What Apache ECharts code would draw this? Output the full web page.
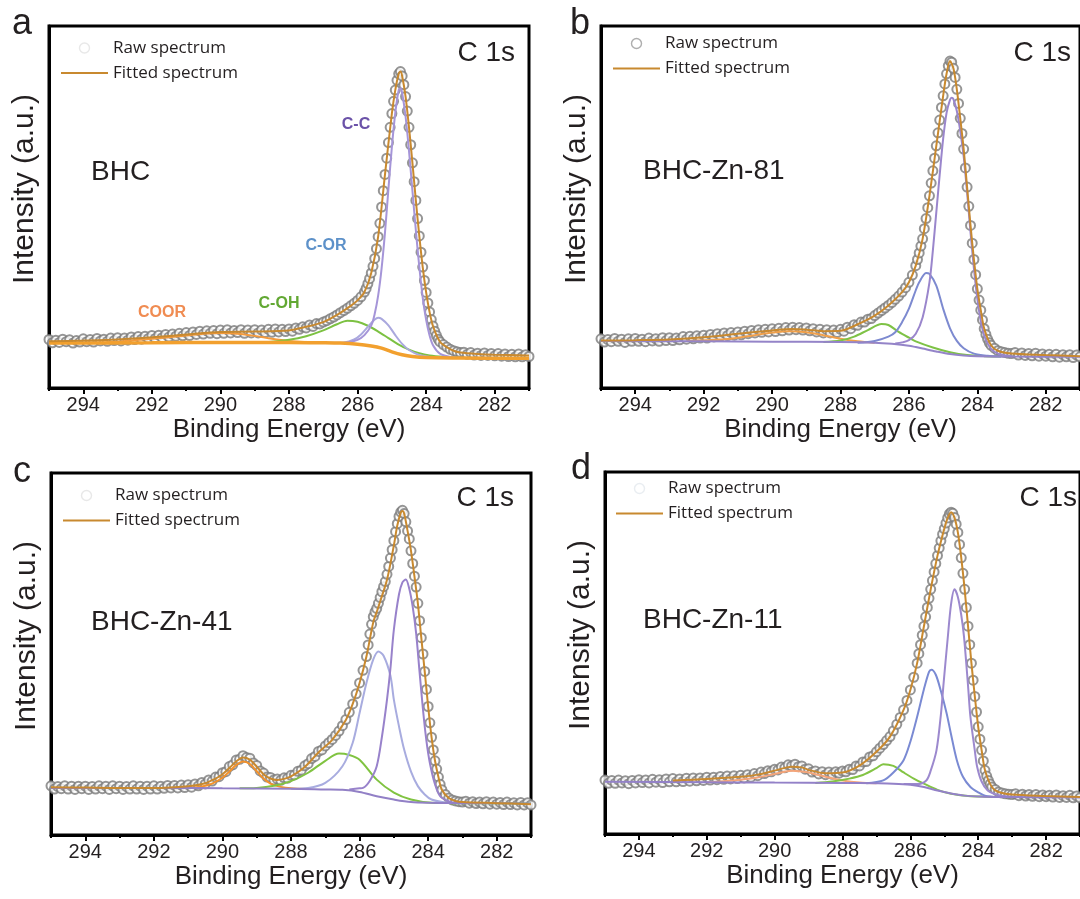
<!DOCTYPE html>
<html><head><meta charset="utf-8">
<script src="https://cdn.jsdelivr.net/npm/echarts@6/dist/echarts.min.js"></script>
<style>html,body{margin:0;padding:0;background:#fff}#c{width:1080px;height:899px}</style>
</head><body><div id="c"></div>
<script>
// ---------------- data (intensity in % of plot height) ----------------
const tickLabels = [282, 284, 286, 288, 290, 292, 294];
const energy = [
295.0,294.9,294.8,294.7,294.6,294.5,294.4,294.3,294.2,294.1,
294.0,293.9,293.8,293.7,293.6,293.5,293.4,293.3,293.2,293.1,
293.0,292.9,292.8,292.7,292.6,292.5,292.4,292.3,292.2,292.1,
292.0,291.9,291.8,291.7,291.6,291.5,291.4,291.3,291.2,291.1,
291.0,290.9,290.8,290.7,290.6,290.5,290.4,290.3,290.2,290.1,
290.0,289.9,289.8,289.7,289.6,289.5,289.4,289.3,289.2,289.1,
289.0,288.9,288.8,288.7,288.6,288.5,288.4,288.3,288.2,288.1,
288.0,287.9,287.8,287.7,287.6,287.5,287.4,287.3,287.2,287.1,
287.0,286.9,286.8,286.7,286.6,286.5,286.4,286.3,286.2,286.1,286.0,285.9,
285.80,285.75,285.70,285.65,285.60,285.55,285.50,285.45,285.40,285.35,285.30,285.25,285.20,285.15,285.10,285.05,285.00,284.95,284.90,284.85,284.80,284.75,284.70,284.65,284.60,284.55,284.50,284.45,284.40,284.35,284.30,284.25,284.20,284.15,284.10,284.05,284.00,283.95,283.90,283.85,283.80,283.75,283.70,283.65,283.60,
283.5,283.4,283.3,283.2,283.1,283.0,
282.9,282.8,282.7,282.6,282.5,282.4,282.3,282.2,282.1,282.0,
281.9,281.8,281.7,281.6,281.5,281.4,281.3,281.2,281.1,281.0];

const rawA = [
13.4,12.5,13.2,12.6,13.5,12.8,13.3,12.4,13.1,12.7,
13.6,12.8,13.4,12.7,13.7,13.0,13.5,12.9,13.8,13.1,
13.9,13.0,13.8,13.2,14.1,13.4,14.2,13.5,14.3,13.7,
14.5,13.7,14.6,13.9,14.8,14.1,14.9,14.3,15.1,14.4,
15.3,14.5,15.5,14.8,15.7,14.9,15.8,15.1,15.9,15.0,
16.0,15.1,16.1,15.2,15.9,15.3,16.1,15.1,16.0,15.2,
16.1,15.2,16.0,15.3,16.2,15.4,16.3,15.5,16.2,15.6,
16.3,15.7,16.6,16.2,16.9,16.6,17.4,17.0,17.8,17.7,
18.2,18.6,19.1,19.6,20.2,20.8,21.4,22.0,22.7,23.4,24.2,25.2,
26.5,27.5,28.8,30.2,31.8,33.6,35.8,38.5,41.8,45.5,50.0,54.5,59.0,63.5,67.8,72.0,75.8,79.2,82.3,85.0,86.8,87.4,86.2,83.8,80.5,76.5,72.0,67.2,62.2,57.0,51.8,46.8,42.0,37.5,33.4,29.7,26.4,23.5,21.0,18.9,17.1,15.7,14.5,13.5,12.8,
12.0,11.3,10.7,10.3,10.0,9.8,
9.9,9.3,9.8,9.1,9.6,9.0,9.7,9.0,9.5,8.9,
9.5,8.8,9.4,8.7,9.3,8.6,9.4,8.6,9.2,8.7];
const rawB = [
13.6,12.7,13.4,12.8,13.7,12.9,13.5,12.6,13.6,12.9,
13.7,12.9,13.5,12.8,13.8,13.0,13.6,12.9,13.9,13.1,
13.9,13.1,13.8,13.3,14.2,13.5,14.3,13.6,14.4,13.8,
14.6,13.8,14.8,14.1,15.0,14.3,15.2,14.5,15.3,14.6,
15.5,14.7,15.7,15.0,15.9,15.2,16.1,15.4,16.2,15.5,
16.4,15.6,16.5,15.8,16.7,16.0,16.8,16.1,16.7,16.0,
16.6,15.8,16.4,15.5,16.2,15.2,16.1,15.2,16.0,15.3,
16.2,15.7,16.8,16.4,17.5,17.3,18.2,18.2,19.0,19.2,
20.0,20.7,21.4,22.1,22.8,23.6,24.5,25.4,26.5,27.7,29.2,31.2,
33.8,35.5,37.3,39.2,41.2,44.0,46.8,49.8,53.1,56.6,60.0,63.5,66.9,70.5,74.0,77.5,80.7,84.0,86.8,89.0,90.3,90.0,88.3,85.8,82.5,78.6,74.5,70.3,66.0,60.8,55.5,50.2,44.9,40.0,35.5,31.3,27.4,24.3,21.5,18.8,16.4,14.8,13.5,12.5,11.8,
11.0,10.3,10.0,9.8,9.6,9.5,
9.8,9.1,9.7,9.0,9.5,8.9,9.6,8.8,9.4,8.8,
9.3,8.6,9.3,8.5,9.2,8.6,9.2,8.4,9.1,8.6];
const rawC = [
13.6,12.7,13.4,12.8,13.6,12.7,13.5,12.6,13.5,12.8,
13.5,12.6,13.4,12.7,13.6,12.8,13.5,12.6,13.6,12.8,
13.5,12.6,13.4,12.7,13.6,12.7,13.5,12.6,13.5,12.7,
13.6,12.7,13.5,12.9,13.7,13.0,13.7,13.0,13.8,13.1,
13.9,13.2,14.1,13.6,14.5,14.1,15.2,14.9,16.0,16.1,
17.2,17.5,18.9,19.4,20.7,20.9,21.9,21.4,21.2,19.9,
19.2,17.7,17.1,16.0,15.9,15.2,15.5,15.1,15.8,15.7,
16.5,16.6,17.6,17.9,19.1,19.7,21.1,21.7,23.1,23.5,
24.6,25.5,26.4,27.5,28.7,30.2,31.9,33.9,36.2,39.0,42.0,45.5,
49.3,52.5,55.5,58.2,60.3,61.6,62.6,64.0,65.6,67.2,68.6,70.0,72.0,74.2,76.5,78.8,81.3,83.8,86.0,88.0,89.2,89.7,88.8,86.5,84.0,81.8,78.5,75.0,71.5,68.5,64.0,59.2,54.5,50.0,45.2,40.2,35.5,31.0,27.0,23.5,20.5,18.2,16.0,14.0,12.5,
11.2,10.2,9.7,9.4,9.2,9.1,
9.3,8.8,9.2,8.7,9.1,8.6,9.2,8.5,9.1,8.5,
9.0,8.4,9.1,8.4,8.9,8.3,9.0,8.3,8.9,8.3];
const rawD = [
14.9,14.0,14.8,14.0,14.9,14.1,14.7,13.9,14.8,14.1,
15.0,14.2,14.9,14.1,15.1,14.3,15.0,14.2,15.2,14.4,
15.3,14.4,15.2,14.5,15.4,14.6,15.5,14.7,15.5,14.8,
15.7,14.9,15.7,15.0,15.9,15.1,16.0,15.2,16.1,15.3,
16.2,15.5,16.4,15.7,16.7,16.1,17.1,16.7,17.5,17.2,
17.9,17.7,18.5,18.3,19.1,18.8,19.3,18.6,18.8,17.9,
18.0,17.1,17.4,16.6,17.2,16.4,17.1,16.5,17.2,16.8,
17.4,17.2,17.9,17.8,18.8,18.8,19.9,20.0,21.3,21.6,
22.7,23.7,24.7,25.8,26.9,28.5,30.3,32.2,34.3,36.9,39.8,43.3,
47.2,49.8,52.3,54.9,57.4,60.0,62.6,65.1,67.6,70.0,72.4,74.7,76.9,79.0,81.0,82.8,84.3,85.9,87.3,88.4,88.9,88.6,87.4,85.6,83.3,80.0,76.3,72.0,67.6,62.6,57.4,52.3,47.2,42.5,38.0,33.7,29.6,26.2,23.2,20.2,17.6,16.0,14.8,13.8,13.0,
12.3,11.6,11.3,11.1,11.0,10.9,
11.1,10.6,11.0,10.5,10.9,10.4,10.9,10.3,10.8,10.3,
10.7,10.2,10.8,10.1,10.6,10.1,10.7,10.0,10.5,10.0];

// fitted envelopes [energy, intensity]
const fitA = [[295,12.9],[294,13.1],[293,13.4],[292,14.0],[291,14.8],[290,15.5],[289,15.6],[288,15.9],[287.5,16.9],[287,18.2],[286.6,20.2],[286.2,22.7],[286,24.2],[285.8,26.5],[285.6,31.8],[285.4,41.8],[285.2,59.0],[285,75.8],[284.9,82.3],[284.8,86.8],[284.75,87.4],[284.7,86.2],[284.6,80.5],[284.5,72.0],[284.4,62.2],[284.3,51.8],[284.2,42.0],[284.1,33.4],[284,26.4],[283.9,21.0],[283.8,17.1],[283.6,12.8],[283.4,11.3],[283.2,10.3],[283,9.8],[282.5,9.4],[282,9.2],[281,9.0]];
const fitB = [[295,13.1],[294,13.2],[293,13.4],[292,14.0],[291,15.0],[290,15.9],[289.4,16.3],[289,16.1],[288.5,15.7],[288,15.8],[287.5,17.6],[287,20.0],[286.6,22.8],[286.2,26.5],[286,29.2],[285.8,33.8],[285.6,41.2],[285.4,53.1],[285.2,66.9],[285,80.7],[284.9,86.8],[284.8,90.3],[284.7,88.3],[284.6,82.5],[284.5,74.5],[284.4,66.0],[284.3,55.5],[284.2,44.9],[284.1,35.5],[284,27.4],[283.9,21.5],[283.8,16.4],[283.6,11.8],[283.4,10.3],[283,9.5],[282,9.1],[281,8.8]];
const fitC = [[295,13.2],[294,13.1],[293,13.0],[292,13.0],[291,13.5],[290.5,14.3],[290.2,15.6],[290,16.8],[289.8,18.5],[289.6,20.3],[289.4,21.4],[289.2,20.8],[289,18.9],[288.8,16.8],[288.6,15.6],[288.4,15.2],[288.2,15.5],[288,16.2],[287.6,18.8],[287.2,22.8],[286.8,26.3],[286.4,31.8],[286.2,36.2],[286,42.0],[285.8,49.3],[285.6,58.8],[285.5,61.6],[285.4,64.5],[285.2,70.5],[285,80.0],[284.9,85.5],[284.8,89.0],[284.75,89.5],[284.7,88.8],[284.6,84.0],[284.5,78.5],[284.4,71.5],[284.3,64.0],[284.2,54.5],[284.1,45.2],[284,35.5],[283.9,27.0],[283.8,20.5],[283.7,16.0],[283.6,12.5],[283.4,10.2],[283.2,9.4],[283,9.1],[282,8.8],[281,8.5]];
const fitD = [[293,14.8],[292,15.2],[291,15.8],[290.5,16.4],[290,17.5],[289.5,18.6],[289.2,18.4],[289,17.7],[288.5,16.8],[288,17.0],[287.5,18.9],[287,22.7],[286.6,26.9],[286.2,34.3],[286,39.8],[285.8,47.2],[285.6,57.4],[285.4,67.6],[285.2,76.9],[285,84.3],[284.9,87.3],[284.8,88.9],[284.7,87.4],[284.6,83.3],[284.5,76.3],[284.4,67.6],[284.3,57.4],[284.2,47.2],[284.1,38.0],[284,29.6],[283.9,23.2],[283.8,17.6],[283.6,13.0],[283.4,11.6],[283,10.9],[282,10.5],[281,10.2]];

// panel a components
const bgA = [[295,12.4],[292,12.5],[290,12.6],[288,12.6],[287,12.5],[286.5,12.4],[286,12.1],[285.6,11.6],[285.3,11.0],[285,10.0],[284.7,9.2],[284.4,8.7],[284,8.4],[283,8.3],[281,8.2]];
const cooA = [[294,12.4],[293,12.8],[292,13.6],[291,14.5],[290.5,15.0],[290,15.2],[289.5,15.0],[289,14.4],[288.5,13.6],[288,13.0],[287.5,12.7],[287,12.5]];
const cohA = [[289,12.6],[288.5,12.8],[288,13.3],[287.5,14.3],[287,15.9],[286.6,17.6],[286.3,18.6],[286,18.3],[285.7,17.2],[285.4,15.6],[285.1,13.8],[284.8,12.0],[284.5,10.6],[284.2,9.6],[283.9,9.0],[283.5,8.6],[283,8.3]];
const corA = [[286.8,12.5],[286.4,12.6],[286.1,13.4],[285.9,14.8],[285.7,16.9],[285.5,18.9],[285.4,19.4],[285.3,19.1],[285.1,17.3],[284.9,14.6],[284.7,12.2],[284.5,10.5],[284.2,9.1],[283.9,8.6],[283.5,8.3]];
const ccA = [[286.6,12.4],[286.3,12.6],[286,13.3],[285.8,14.6],[285.6,17.3],[285.5,20.5],[285.4,25.5],[285.3,33],[285.2,43],[285.1,55],[285,66.5],[284.9,76],[284.8,82.3],[284.75,82.8],[284.7,81.5],[284.6,75],[284.5,65.5],[284.4,54.5],[284.3,43.5],[284.2,33.5],[284.1,25],[284,18.8],[283.9,14.5],[283.8,11.8],[283.6,9.5],[283.3,8.6],[283,8.3]];
// panel b components
const bgB = [[295,13.0],[292,12.9],[290,12.8],[288,12.7],[287,12.5],[286.5,12.2],[286,11.7],[285.8,11.3],[285.6,10.9],[285.2,10.1],[284.8,9.4],[284.4,9.0],[284,8.8],[283,8.7],[281,8.6]];
const cooB = [[292.5,13.0],[291.5,13.4],[291,13.9],[290.5,14.6],[290,15.3],[289.5,15.7],[289,15.4],[288.5,14.6],[288,13.6],[287.5,12.9],[287,12.5]];
const cohB = [[288.5,12.7],[288,13.1],[287.6,14.2],[287.2,16.0],[286.8,17.7],[286.6,17.4],[286.3,15.5],[286,13.9],[285.8,12.9],[285.3,11.2],[284.8,9.9],[284.3,9.1],[283.8,8.8],[283.3,8.7]];
const corB = [[287.5,12.5],[287,13.0],[286.6,14.2],[286.4,15.4],[286.2,18.2],[286,21.9],[285.8,27.0],[285.7,29.2],[285.5,31.8],[285.4,31.5],[285.2,28.3],[285,21.9],[284.8,16.5],[284.6,13.0],[284.4,11.0],[284.1,9.5],[283.7,8.9],[283.3,8.7]];
const ccB = [[286.4,12.3],[286.2,12.6],[286,13.2],[285.8,15.0],[285.6,19.5],[285.4,29.2],[285.3,38],[285.2,48.5],[285.1,59],[285,68.8],[284.9,76],[284.8,79.6],[284.75,80.2],[284.7,79.8],[284.6,76.5],[284.5,71],[284.4,64],[284.3,54],[284.2,43],[284.1,33],[284,24.6],[283.9,18.5],[283.8,14.5],[283.6,10.8],[283.4,9.5],[283,8.8]];
// panel c components
const bgC = [[295,13.0],[292,13.0],[290,12.9],[288,12.8],[287,12.6],[286.5,12.5],[286,11.9],[285.5,10.7],[285,9.8],[284.5,9.1],[284,8.9],[283,8.8],[281,8.7]];
const cooC = [[291,13.0],[290.6,13.4],[290.3,14.2],[290,15.8],[289.8,17.5],[289.6,19.3],[289.4,20.3],[289.2,19.6],[289,17.6],[288.8,15.6],[288.6,14.2],[288.3,13.3],[288,12.9],[287.5,12.7]];
const cohC = [[289.5,12.9],[289,13.0],[288.5,13.6],[288,14.9],[287.5,17.2],[287,20.5],[286.6,22.5],[286.3,22.1],[286,20.8],[285.5,15.3],[285,11.7],[284.5,9.8],[283.9,8.9],[283.3,8.8],[281,8.7]];
const corC = [[288,12.8],[287.5,13.0],[287,14.4],[286.5,19.0],[286.2,25.5],[286,33.7],[285.8,42],[285.6,48.5],[285.45,50.7],[285.3,49.5],[285.1,44],[285,37.4],[284.85,30],[284.7,23.6],[284.5,17.5],[284.3,13.5],[284.1,11.2],[283.9,9.8],[283.5,9.0],[283,8.8]];
const ccC = [[286.3,12.6],[286,12.9],[285.9,13.0],[285.7,15],[285.5,19.0],[285.35,27],[285.2,37.4],[285.1,46],[285,56.7],[284.85,66.5],[284.75,69.8],[284.65,70.6],[284.55,68],[284.45,63],[284.35,55.7],[284.25,45],[284.15,34.6],[284.05,26],[283.95,19.9],[283.8,14],[283.65,10.7],[283.45,9.5],[283.25,8.9],[283,8.8]];
// panel d components
const bgD = [[295,14.4],[292,14.3],[290,14.2],[288,14.1],[287,14.0],[286.5,13.9],[286,13.6],[285.6,13.0],[285.2,12.0],[284.8,11.2],[284.4,10.6],[284,10.35],[283,10.2],[281,10.1]];
const cooD = [[292,14.3],[291.5,14.6],[291,15.0],[290.5,15.6],[290,16.6],[289.5,17.5],[289,17.0],[288.5,15.8],[288,14.8],[287.5,14.2],[287,14.0]];
const cohD = [[288.8,14.1],[288.3,14.5],[287.8,15.3],[287.4,16.3],[287,18.2],[286.8,19.3],[286.5,18.8],[286.2,17.0],[285.9,15.3],[285.6,13.9],[285.2,12.2],[284.8,11.1],[284.3,10.5],[283.8,10.3],[283.3,10.2]];
const corD = [[287.3,14.0],[286.8,14.8],[286.5,17.0],[286.2,20.4],[286,25.5],[285.8,32.4],[285.6,40],[285.45,44.8],[285.38,45.4],[285.25,44],[285.1,39.5],[284.93,33.3],[284.8,27.5],[284.63,20.4],[284.45,15.8],[284.23,13.0],[284,11.5],[283.8,10.6],[283.4,10.2]];
const ccD = [[286.2,13.8],[285.8,13.8],[285.53,14.8],[285.4,17.5],[285.23,23.1],[285.1,33],[285.02,41.7],[284.9,54],[284.8,63.5],[284.7,67.6],[284.6,65.5],[284.5,60.5],[284.42,54.6],[284.3,41],[284.23,32.4],[284.1,23],[284.03,18.5],[283.9,14.5],[283.72,12.0],[283.5,11],[283.32,10.6],[283,10.3]];

const sampleNames = ['BHC', 'BHC-Zn-81', 'BHC-Zn-41', 'BHC-Zn-11'];
const panelLetters = ['a', 'b', 'c', 'd'];

// ---------------- chart ----------------
const FONT = '"Liberation Sans", Arial, Helvetica, sans-serif';
const TXT = '#231f20';
const FIT = '#c8892f';
const panels = [
  {grid:{left:49, top:26, width:480, height:362}, raw:rawA, fit:fitA, bg:bgA, coo:cooA, coh:cohA, cor:corA, cc:ccA,
   col:{bg:'#f2a02e', coo:'#f39a3c', coh:'#7cc142', cor:'#aaa8de', cc:'#a595d8'}, bgW:3.5,
   legend:{left:60, top:39.5, circ:'#e2e2e2'}, sample:{x:91, y:172}, c1s:{x:515, y:53}, letter:{x:12, y:24}},
  {grid:{left:601, top:26, width:482, height:362}, raw:rawB, fit:fitB, bg:bgB, coo:cooB, coh:cohB, cor:corB, cc:ccB,
   col:{bg:'#9484c8', coo:'#f0a04a', coh:'#7ec246', cor:'#7d8ad0', cc:'#9a86cc'}, bgW:2,
   legend:{left:612, top:35, circ:'#9a9a9a'}, sample:{x:643, y:171}, c1s:{x:1071, y:53}, letter:{x:570, y:24}},
  {grid:{left:51, top:473, width:480, height:362}, raw:rawC, fit:fitC, bg:bgC, coo:cooC, coh:cohC, cor:corC, cc:ccC,
   col:{bg:'#9280c6', coo:'#f3922c', coh:'#80c341', cor:'#a8acdf', cc:'#9882cb'}, bgW:2,
   legend:{left:62, top:487, circ:'#e2e2e2'}, sample:{x:91, y:622}, c1s:{x:514, y:498}, letter:{x:13, y:472}},
  {grid:{left:605, top:472, width:482, height:362}, raw:rawD, fit:fitD, bg:bgD, coo:cooD, coh:cohD, cor:corD, cc:ccD,
   col:{bg:'#9381c8', coo:'#f4a57a', coh:'#83c444', cor:'#7a8ad3', cc:'#9c89ce'}, bgW:2,
   legend:{left:615, top:480, circ:'#e4e8ee'}, sample:{x:643, y:620}, c1s:{x:1077, y:498}, letter:{x:571, y:469}}
];

const option = {animation:false, backgroundColor:'#fff', grid:[], xAxis:[], yAxis:[], series:[], legend:[], graphic:[]};

panels.forEach((p, i) => {
  option.grid.push(Object.assign({show:true, borderColor:'#000', borderWidth:3, backgroundColor:'transparent'}, p.grid));
  // minor ticks every 1 eV
  option.xAxis.push({gridIndex:i, type:'value', min:281, max:295, interval:1, inverse:true, position:'bottom',
    axisLine:{show:true, onZero:false, lineStyle:{color:'#000', width:3}},
    axisTick:{show:true, length:3, lineStyle:{color:'#000', width:2}},
    axisLabel:{show:false}, splitLine:{show:false}});
  // major ticks + labels
  option.xAxis.push({gridIndex:i, type:'value', min:281, max:295, inverse:true, position:'bottom',
    axisLine:{show:false, onZero:false},
    axisTick:{show:true, length:6, customValues:tickLabels, lineStyle:{color:'#000', width:2}},
    axisLabel:{show:true, customValues:tickLabels, fontSize:20, fontFamily:FONT, color:TXT, margin:7},
    splitLine:{show:false},
    name:'Binding Energy (eV)', nameLocation:'middle', nameGap:29,
    nameTextStyle:{fontSize:26, fontFamily:FONT, color:TXT}});
  option.yAxis.push({gridIndex:i, type:'value', min:0, max:100,
    axisLine:{show:true, onZero:false, lineStyle:{color:'#000', width:3}},
    axisTick:{show:false}, axisLabel:{show:false}, splitLine:{show:false},
    name:'Intensity (a.u.)', nameLocation:'middle', nameGap:9, nameRotate:90,
    nameTextStyle:{fontSize:30, fontFamily:FONT, color:TXT, padding:[0,0,0,36]}});

  const xa = 2 * i, ya = i;
  option.series.push({name:'Raw spectrum', type:'scatter', xAxisIndex:xa, yAxisIndex:ya,
    data: energy.map((e, k) => [e, p.raw[k]]), symbol:'emptyCircle', symbolSize:9,
    itemStyle:{color:'#7a7a7a', borderWidth:1.8}, z:2, silent:true});
  const comp = (key, w) => ({name:key + i, type:'line', xAxisIndex:xa, yAxisIndex:ya, data:p[key],
    smooth:0.3, symbol:'none', lineStyle:{color:p.col[key], width:w}, z:3, silent:true});
  option.series.push(comp('coo', 2), comp('coh', 2), comp('cor', 2), comp('cc', 2), comp('bg', p.bgW));
  option.series.push({name:'Fitted spectrum', type:'line', xAxisIndex:xa, yAxisIndex:ya, data:p.fit,
    smooth:0.3, symbol:'none', lineStyle:{color:FIT, width:2}, itemStyle:{color:FIT}, z:4, silent:true});

  option.legend.push({orient:'vertical', left:p.legend.left, top:p.legend.top, itemWidth:47, itemHeight:10, itemGap:8,
    selectedMode:false, padding:0,
    data:[{name:'Raw spectrum', icon:'circle', itemStyle:{color:'#fff', borderColor:p.legend.circ, borderWidth:1.4}},
          {name:'Fitted spectrum', itemStyle:{opacity:0}, lineStyle:{color:FIT, width:2}}],
    textStyle:{fontFamily:'"Open Sans", sans-serif', fontSize:17, lineHeight:17, color:TXT}});

  option.graphic.push({type:'text', x:p.letter.x, y:p.letter.y, style:{text:panelLetters[i], font:'36px ' + FONT, fill:TXT, verticalAlign:'middle'}});
  option.graphic.push({type:'text', x:p.sample.x, y:p.sample.y, style:{text:sampleNames[i], font:'28px ' + FONT, fill:TXT, verticalAlign:'middle'}});
  option.graphic.push({type:'text', x:p.c1s.x, y:p.c1s.y, style:{text:'C 1s', font:'28px ' + FONT, fill:TXT, align:'right', verticalAlign:'middle'}});
});

// component annotations in panel a
const annotations = [
  {text:'C-C', x:356, y:125, color:'#6b52a8'},
  {text:'C-OR', x:326, y:246, color:'#5d91c9'},
  {text:'C-OH', x:279, y:304, color:'#62a833'},
  {text:'COOR', x:162, y:313, color:'#f08c52'}
];
annotations.forEach(a => option.graphic.push({type:'text', x:a.x, y:a.y,
  style:{text:a.text, font:'bold 16px ' + FONT, fill:a.color, align:'center', verticalAlign:'middle'}}));

const chart = echarts.init(document.getElementById('c'), null, {renderer:'canvas', width:1080, height:899});
chart.setOption(option);
</script>
</body></html>
